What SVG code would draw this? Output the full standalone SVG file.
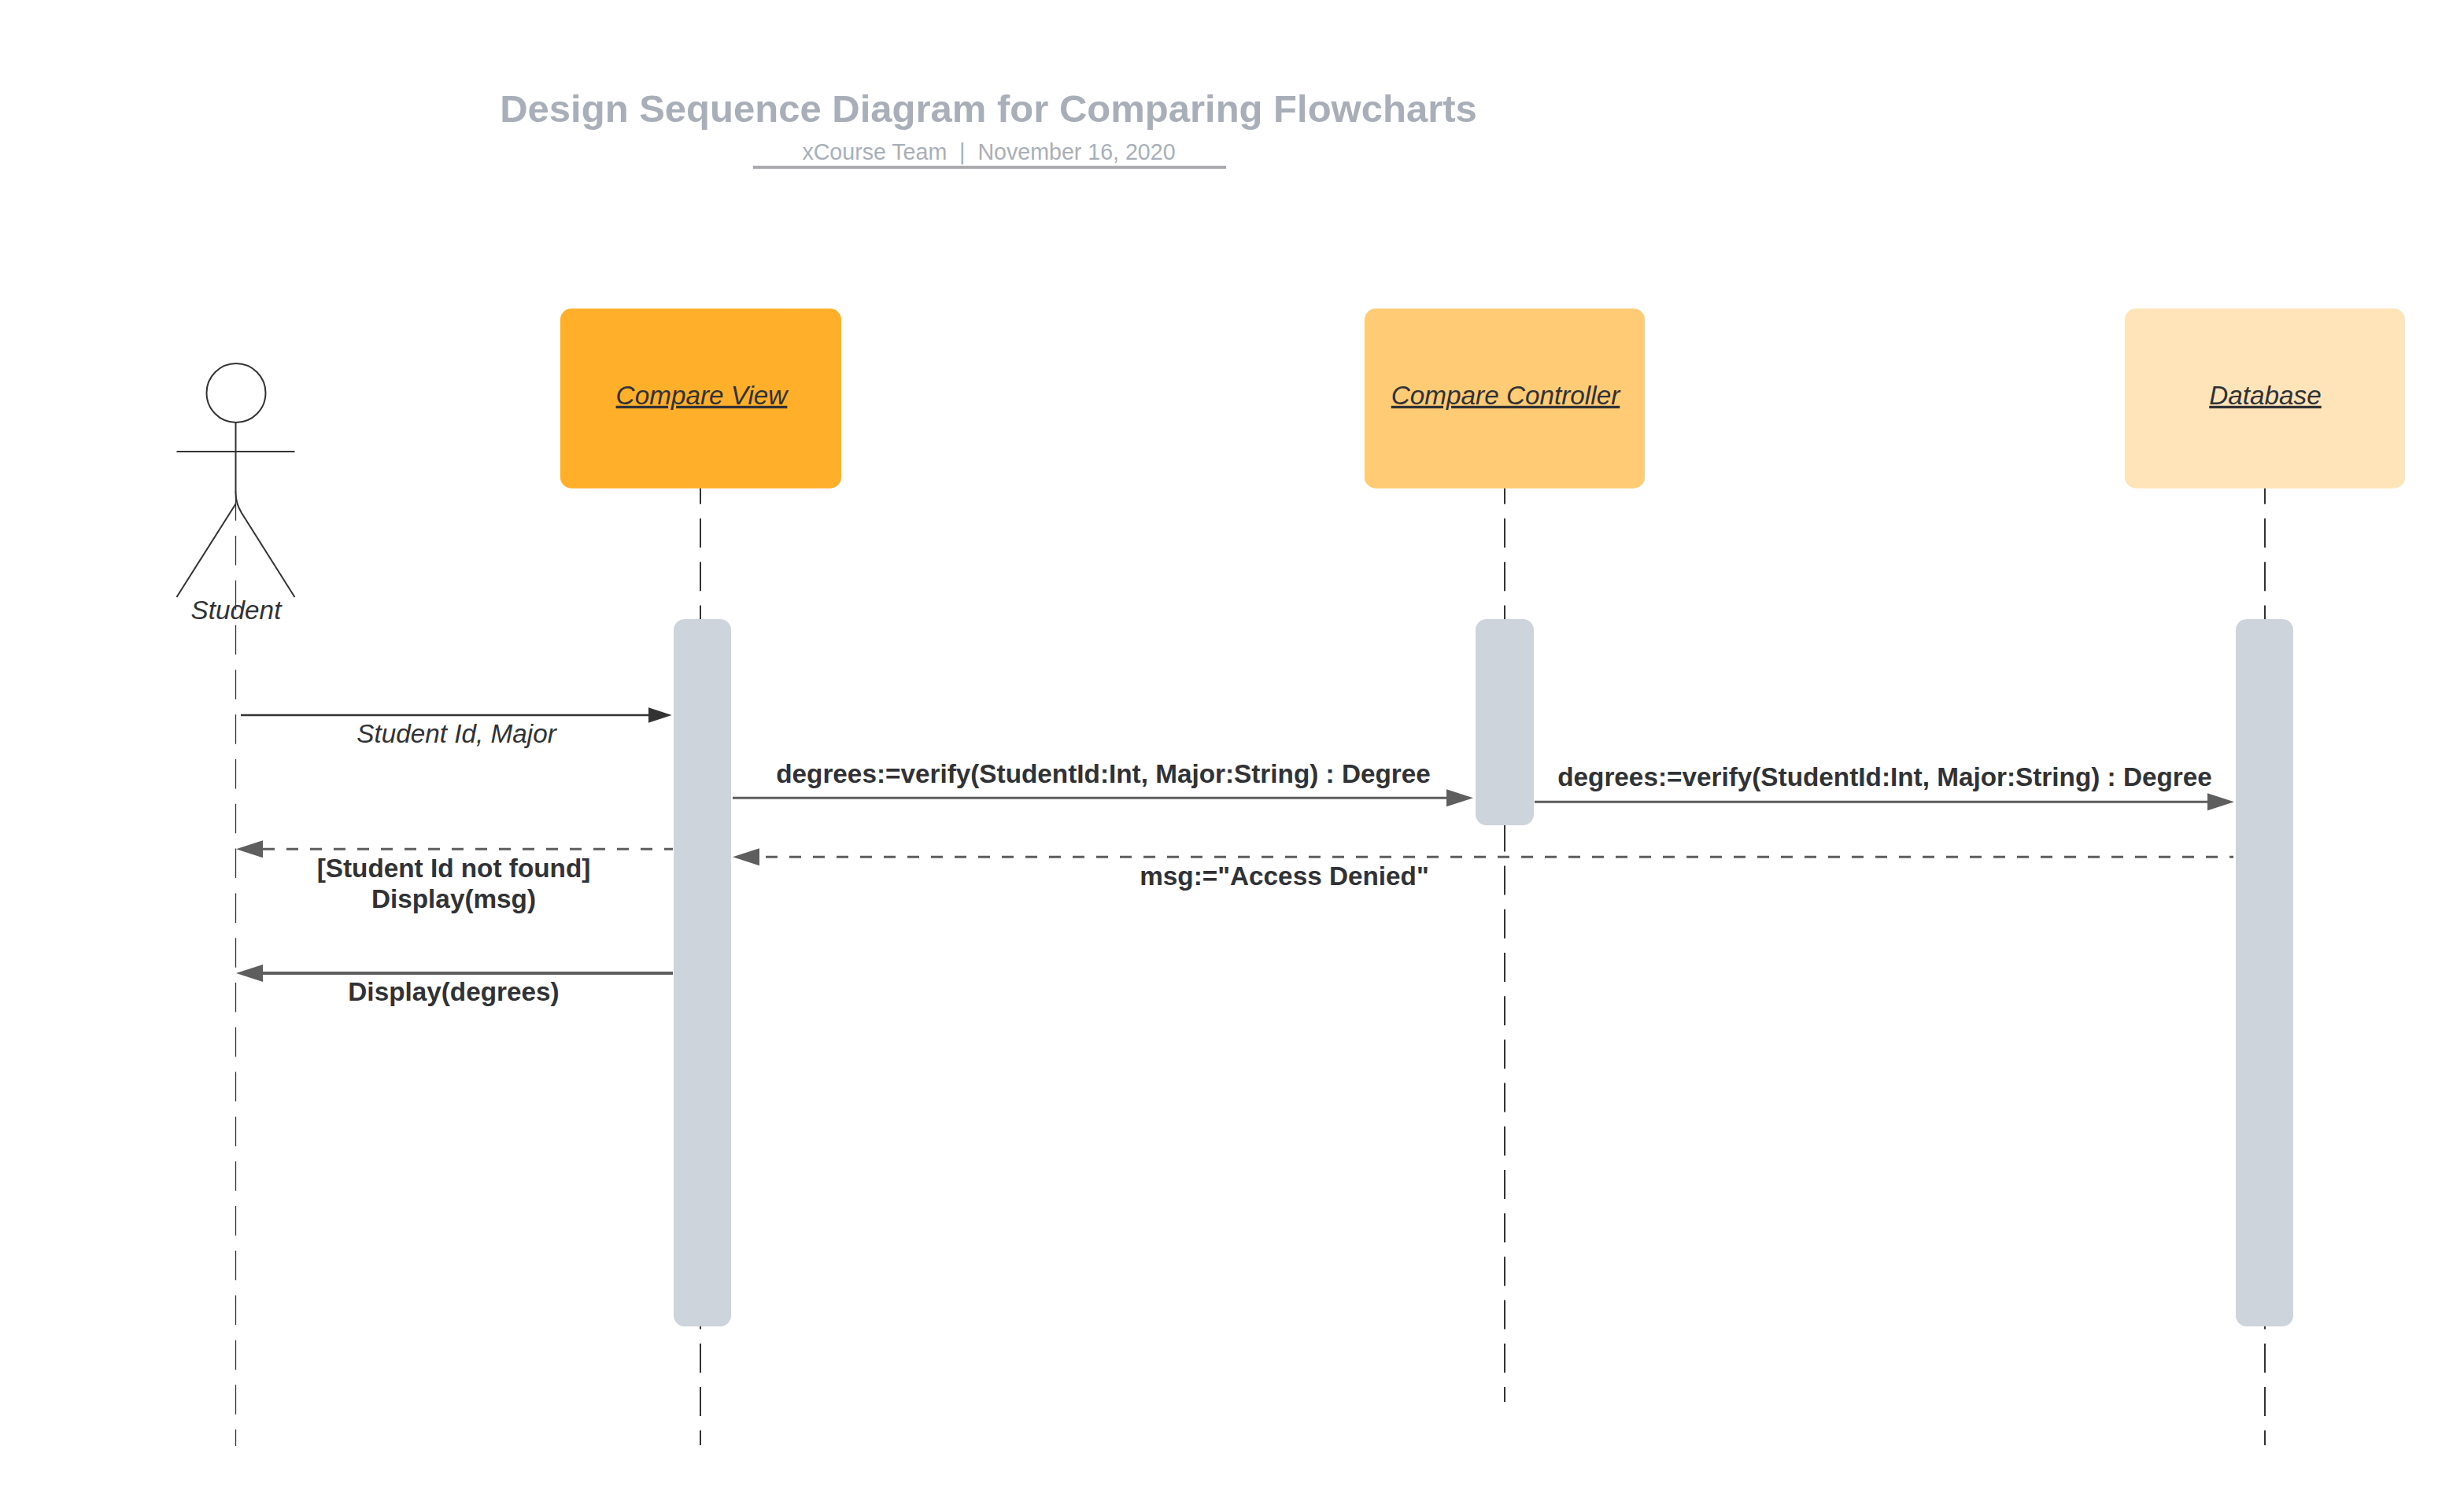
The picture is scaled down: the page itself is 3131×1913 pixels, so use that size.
<svg xmlns="http://www.w3.org/2000/svg" width="3131" height="1913" viewBox="0 0 3131 1913">
<style>
text{font-family:"Liberation Sans",Arial,sans-serif;fill:#303236;text-anchor:middle}
.t{fill:#a9afb8}
.b{font-weight:700;font-size:33.300px}
.i{font-style:italic;font-size:33.300px}
.u{text-decoration:underline}
.life{stroke:#333;stroke-width:2;stroke-dasharray:37 18.2;fill:none}
.act{fill:#ced4db}
.m{stroke:#5e5e5e;stroke-width:3;fill:none}
.dash{stroke-dasharray:15 15}
</style>
<defs>
<marker id="a1" markerUnits="userSpaceOnUse" markerWidth="32" markerHeight="24" refX="22" refY="10" orient="auto"><path d="M0 0L30 10L0 20Z" fill="#333"/></marker>
<marker id="a2" markerUnits="userSpaceOnUse" markerWidth="36" markerHeight="26" refX="24" refY="11" orient="auto"><path d="M0 0L34 11L0 22Z" fill="#5e5e5e"/></marker>
</defs>
<g id="title"><text class="t" x="1256" y="155" font-size="49" font-weight="700">Design Sequence Diagram for Comparing Flowcharts</text>
<text class="t" x="1256.500" y="202.500" font-size="28.600" style="white-space:pre">xCourse Team  |  November 16, 2020</text>
<line x1="957" y1="212.700" x2="1558" y2="212.700" stroke="#a9a9ae" stroke-width="4"/></g>
<g id="lifelines">
<line class="life" x1="299.500" y1="624.200" x2="299.500" y2="1838" style="stroke-width:1.300;stroke-dasharray:37.500 19.300"/>
<line class="life" x1="890" y1="603.800" x2="890" y2="1837"/>
<line class="life" x1="1912" y1="603.800" x2="1912" y2="1782"/>
<line class="life" x1="2878" y1="603.800" x2="2878" y2="1837"/>
</g>
<g id="student"><ellipse cx="300" cy="499.500" rx="37.500" ry="37.500" fill="none" stroke="#333" stroke-width="2"/>
<path d="M299.500 537V626Q299.500 640 307 652L374.500 759M299.500 640.500L224.500 759M224.500 574H374.500" fill="none" stroke="#333" stroke-width="2"/>
<text class="i" x="300" y="786.700">Student</text></g>
<g id="compare-view"><rect x="712" y="392.300" width="357" height="228.400" rx="14" fill="#ffaf2a"/><text class="i u" x="891.500" y="513.800">Compare View</text></g>
<g id="compare-controller"><rect x="1734" y="392.300" width="356" height="228.400" rx="14" fill="#ffcb74"/><text class="i u" x="1913" y="513.800">Compare Controller</text></g>
<g id="database"><rect x="2700" y="392.300" width="356" height="228.400" rx="14" fill="#ffe4b9"/><text class="i u" x="2878.500" y="513.800">Database</text></g>
<g id="act-view"><rect class="act" x="856" y="787" width="73" height="899" rx="14"/></g>
<g id="act-controller"><rect class="act" x="1875" y="787" width="74" height="262" rx="14"/></g>
<g id="act-database"><rect class="act" x="2841" y="787" width="73" height="899" rx="14"/></g>
<g id="connectors">
<line x1="306" y1="909" x2="845.600" y2="909" stroke="#333" stroke-width="2.500" marker-end="url(#a1)"/>
<line class="m" x1="931" y1="1014.300" x2="1862" y2="1014.300" marker-end="url(#a2)"/>
<line class="m" x1="1950" y1="1019.300" x2="2829" y2="1019.300" marker-end="url(#a2)"/>
<line class="m dash" x1="2838" y1="1089.300" x2="941" y2="1089.300" style="stroke-dashoffset:10" marker-end="url(#a2)"/>
<line class="m dash" x1="855" y1="1079.300" x2="310" y2="1079.300" style="stroke-dashoffset:4" marker-end="url(#a2)"/>
<line class="m" x1="855" y1="1237" x2="310" y2="1237" style="stroke-width:4" marker-end="url(#a2)"/>
</g>
<g id="labels">
<text class="i" x="580" y="944.300">Student Id, Major</text>
<text class="b" x="1402" y="994.500">degrees:=verify(StudentId:Int, Major:String) : Degree</text>
<text class="b" x="2395" y="999">degrees:=verify(StudentId:Int, Major:String) : Degree</text>
<text class="b" x="1632" y="1124.800">msg:="Access Denied"</text>
<text class="b" x="576.500" y="1114.500">[Student Id not found]</text>
<text class="b" x="576.500" y="1153.500">Display(msg)</text>
<text class="b" x="576.500" y="1272">Display(degrees)</text>
</g>
</svg>
